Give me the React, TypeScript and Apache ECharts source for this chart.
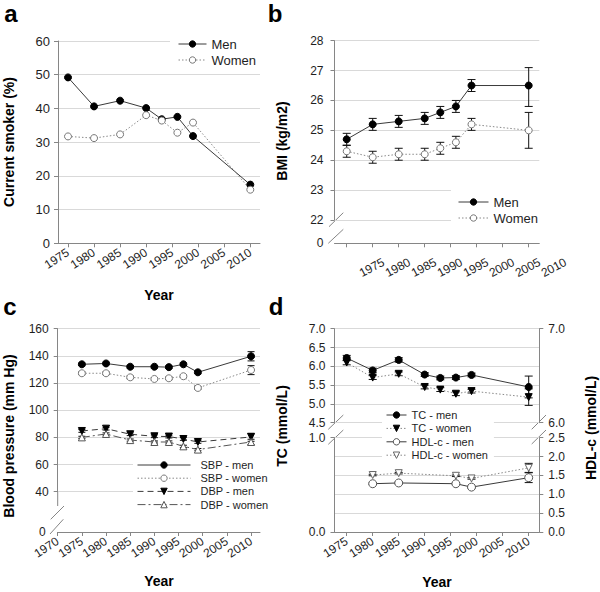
import React, { useEffect, useRef } from 'react';
import * as echarts from 'echarts';

const FONT = "'Liberation Sans', Arial, Helvetica, sans-serif";
const AXIS = '#868686';
const GRIDC = '#d9d9d9';
const TXT = '#1e1e1e';

// ---- data ----
const years = [1975, 1980, 1985, 1990, 1993, 1996, 1999, 2010];
const hdlYears = [1980, 1985, 1996, 1999, 2010];
const tickYears = [1975, 1980, 1985, 1990, 1995, 2000, 2005, 2010];
const tickYearsC = [1970, 1975, 1980, 1985, 1990, 1995, 2000, 2005, 2010];

// a: current smoker (%)
const smokeMen = [49.2, 40.6, 42.3, 40.1, 36.8, 37.5, 31.8, 17.4];
const smokeWomen = [31.7, 31.2, 32.3, 38.0, 36.4, 32.8, 35.8, 15.9];

// b: BMI
const bmiMen = [24.7, 25.2, 25.3, 25.4, 25.6, 25.8, 26.5, 26.5];
const bmiMenLow = [24.5, 25.0, 25.1, 25.2, 25.4, 25.6, 26.3, 25.8];
const bmiMenHigh = [24.9, 25.4, 25.5, 25.6, 25.8, 26.0, 26.7, 27.1];
const bmiWomen = [24.3, 24.1, 24.2, 24.2, 24.4, 24.6, 25.2, 25.0];
const bmiWomenLow = [24.1, 23.9, 24.0, 24.0, 24.2, 24.4, 25.0, 24.4];
const bmiWomenHigh = [24.5, 24.3, 24.4, 24.4, 24.6, 24.8, 25.4, 25.6];

// c: blood pressure
const sbpMen = [133.8, 134.4, 132.0, 132.0, 131.7, 133.8, 127.9, 139.7];
const sbpMenLow = [132.8, 133.4, 131.0, 131.0, 130.7, 132.8, 126.9, 136.3];
const sbpMenHigh = [134.8, 135.4, 133.0, 133.0, 132.7, 134.8, 128.9, 143.1];
const sbpWomen = [127.2, 127.2, 124.2, 123.0, 123.5, 125.0, 116.4, 129.6];
const sbpWomenLow = [126.2, 126.2, 123.2, 122.0, 122.5, 124.0, 115.4, 126.2];
const sbpWomenHigh = [128.2, 128.2, 125.2, 124.0, 124.5, 126.0, 117.4, 132.8];
const dbpMen = [84.7, 86.4, 82.3, 80.8, 80.6, 78.8, 76.6, 80.3];
const dbpMenLow = [83.7, 85.4, 81.3, 79.8, 79.6, 77.8, 75.6, 77.1];
const dbpMenHigh = [85.7, 87.4, 83.3, 81.8, 81.6, 79.8, 77.6, 83.0];
const dbpWomen = [80.0, 82.5, 78.0, 76.6, 76.6, 73.4, 71.0, 76.6];
const dbpWomenLow = [79.2, 81.7, 77.2, 75.8, 75.8, 72.6, 70.2, 74.6];
const dbpWomenHigh = [80.8, 83.3, 78.8, 77.4, 77.4, 74.2, 71.8, 78.6];

// d: cholesterol
const tcMen = [6.22, 5.89, 6.17, 5.78, 5.69, 5.70, 5.77, 5.45];
const tcMenLow = [6.15, 5.83, 6.11, 5.73, 5.64, 5.65, 5.72, 5.16];
const tcMenHigh = [6.29, 5.95, 6.23, 5.83, 5.74, 5.75, 5.82, 5.74];
const tcWomen = [6.10, 5.70, 5.80, 5.45, 5.38, 5.27, 5.34, 5.18];
const tcWomenLow = [6.04, 5.65, 5.75, 5.40, 5.33, 5.22, 5.29, 4.96];
const tcWomenHigh = [6.16, 5.75, 5.85, 5.50, 5.43, 5.32, 5.39, 5.40];
const hdlMen = [1.28, 1.30, 1.28, 1.19, 1.44];
const hdlMenLow = [1.26, 1.28, 1.26, 1.17, 1.31];
const hdlMenHigh = [1.30, 1.32, 1.30, 1.21, 1.57];
const hdlWomen = [1.51, 1.56, 1.49, 1.42, 1.70];
const hdlWomenLow = [1.49, 1.54, 1.47, 1.40, 1.58];
const hdlWomenHigh = [1.53, 1.58, 1.51, 1.44, 1.82];

const pairs = (xs: number[], ys: number[]) => xs.map((x, i) => [x, ys[i]]);
const errs = (xs: number[], lo: number[], hi: number[]) => xs.map((x, i) => [x, lo[i], hi[i]]);

const yearFmt = (v: number) => String(Math.round(v));
const fix1 = (v: number) => v.toFixed(1);

function xShown(gi: number, min: number, max: number, ticks: number[], labels: boolean, rotate = 33, fontSize = 12, margin = 8) {
  return {
    type: 'value', gridIndex: gi, min, max,
    axisLine: { show: true, lineStyle: { color: AXIS, width: 1 } },
    axisTick: { show: true, customValues: ticks, length: 4, lineStyle: { color: AXIS } },
    axisLabel: { show: labels, customValues: ticks, rotate, fontSize, margin, color: TXT, fontFamily: FONT, formatter: yearFmt },
    splitLine: { show: false },
  };
}
function xHidden(gi: number, min: number, max: number) {
  return { type: 'value', gridIndex: gi, min, max, show: false, splitLine: { show: false } };
}
function xLabelsOnly(gi: number, min: number, max: number, ticks: number[], rotate: number, fontSize: number, margin: number) {
  return {
    type: 'value', gridIndex: gi, min, max,
    axisLine: { show: false }, axisTick: { show: false }, splitLine: { show: false },
    axisLabel: { show: true, customValues: ticks, rotate, fontSize, margin, color: TXT, fontFamily: FONT, formatter: yearFmt },
  };
}
function yAx(gi: number, min: number, max: number, interval: number, opts: any = {}) {
  return {
    type: 'value', gridIndex: gi, min, max, interval,
    position: opts.position || 'left',
    axisLine: { show: opts.line !== false, lineStyle: { color: AXIS, width: 1 } },
    axisTick: { show: opts.tick !== false, length: 4, lineStyle: { color: AXIS } },
    axisLabel: { show: true, fontSize: opts.fontSize || 12, margin: opts.margin || 9, color: TXT, fontFamily: FONT, formatter: opts.formatter },
    splitLine: { show: !!opts.split, lineStyle: { color: GRIDC, width: 1 } },
  };
}

type Sty = { line: string; lineType: any; sym: string; rot?: number; fill: string; border: string; size?: number };
const MEN: Sty = { line: '#3a3a3a', lineType: 'solid', sym: 'circle', fill: '#000', border: '#000' };
const WOMEN: Sty = { line: '#8a8a8a', lineType: [1.5, 2], sym: 'circle', fill: '#fff', border: '#777' };

function lineS(name: string, data: any[], xi: number, yi: number, s: Sty) {
  return {
    type: 'line', name, data, xAxisIndex: xi, yAxisIndex: yi,
    symbol: s.sym, symbolSize: s.size || 7, symbolRotate: s.rot || 0, showSymbol: true,
    lineStyle: { color: s.line, width: 1, type: s.lineType },
    itemStyle: { color: s.fill, borderColor: s.border, borderWidth: 1 },
    emphasis: { disabled: true }, silent: true, z: 5, clip: false,
  };
}
function errS(id: string, data: any[], xi: number, yi: number, cap: number) {
  return {
    type: 'custom', name: id, data, xAxisIndex: xi, yAxisIndex: yi, z: 3, silent: true, clip: false,
    encode: { x: 0, y: [1, 2] },
    renderItem: (_p: any, api: any) => {
      const x = api.value(0);
      const lo = api.coord([x, api.value(1)]);
      const hi = api.coord([x, api.value(2)]);
      const style = { stroke: '#111', lineWidth: 1 };
      return {
        type: 'group', children: [
          { type: 'line', shape: { x1: lo[0], y1: lo[1], x2: hi[0], y2: hi[1] }, style },
          { type: 'line', shape: { x1: lo[0] - cap, y1: lo[1], x2: lo[0] + cap, y2: lo[1] }, style },
          { type: 'line', shape: { x1: hi[0] - cap, y1: hi[1], x2: hi[0] + cap, y2: hi[1] }, style },
        ],
      };
    },
  };
}

function legendC(data: string[], left: number, top: number, o: any) {
  return {
    data, orient: 'vertical', left, top, selectedMode: false,
    itemWidth: o.iw, itemHeight: o.ih || 8, itemGap: o.gap,
    backgroundColor: '#fff', padding: o.pad,
    itemStyle: { borderWidth: 1 },
    lineStyle: { width: 1 },
    textStyle: { fontSize: o.fs, color: TXT, fontFamily: FONT, lineHeight: o.lh, padding: o.tpad || 0 },
  };
}

function title(text: string, x: number, y: number, size: number, rot = 0) {
  return {
    type: 'text', x, y, rotation: rot, silent: true, z: 100,
    style: { text, fontSize: size, fontWeight: 'bold', fontFamily: FONT, fill: '#000', textAlign: 'center', textVerticalAlign: 'middle' },
  };
}
function seg(x1: number, y1: number, x2: number, y2: number) {
  return { type: 'line', silent: true, shape: { x1, y1, x2, y2 }, style: { stroke: AXIS, lineWidth: 1 } };
}

function buildOption() {
  const A: [number, number] = [1973.08, 2011.86];
  const B: [number, number] = [1972.65, 2012.04];
  const C: [number, number] = [1970, 2011.85];
  const BL: [number, number] = [1965.55, 2012.04];
  const grids = [
    { left: 58, top: 41, width: 202, height: 202.3 },
    { left: 334.5, top: 40.7, width: 204.8, height: 179.3 },
    { left: 334.5, top: 220, width: 204.8, height: 23.3 },
    { left: 334.5, top: 220, width: 241.7, height: 23.3 },
    { left: 57.7, top: 328.7, width: 202.3, height: 163 },
    { left: 57.7, top: 491.7, width: 202.3, height: 40.3 },
    { left: 334.5, top: 328.7, width: 204.8, height: 94 },
    { left: 334.5, top: 437.7, width: 204.8, height: 94.3 },
  ].map((g) => ({ ...g, outerBoundsMode: 'none', containLabel: false }));

  const xAxis = [
    xShown(0, A[0], A[1], tickYears, true),
    xHidden(1, B[0], B[1]),
    xShown(2, B[0], B[1], tickYears, false),
    xLabelsOnly(3, BL[0], BL[1], tickYears, 28, 12, 18),
    xHidden(4, C[0], C[1]),
    xShown(5, C[0], C[1], tickYearsC, true),
    xHidden(6, B[0], B[1]),
    xShown(7, B[0], B[1], tickYears, true),
  ];
  const yAxis = [
    yAx(0, 0, 60, 10, { split: true, fontSize: 13, margin: 8 }),
    yAx(1, 22, 28, 1, { split: true, fontSize: 12, margin: 11 }),
    yAx(2, 0, 1, 1, { line: false, tick: false, fontSize: 12, margin: 11, formatter: (v: number) => (v === 0 ? '0' : '') }),
    { type: 'value', gridIndex: 3, min: 0, max: 1, show: false },
    yAx(4, 40, 160, 20, { split: true, fontSize: 12, margin: 9 }),
    yAx(5, 0, 1, 1, { line: false, tick: false, fontSize: 12, margin: 12, formatter: (v: number) => (v === 0 ? '0' : '') }),
    yAx(6, 4.5, 7, 0.5, { split: true, fontSize: 12, margin: 9, formatter: fix1 }),
    yAx(6, 6, 7, 1, { position: 'right', fontSize: 12, margin: 9, formatter: fix1 }),
    yAx(7, 0, 1, 1, { fontSize: 12, margin: 9, formatter: fix1 }),
    yAx(7, 0, 2.5, 0.5, { position: 'right', split: true, fontSize: 12, margin: 9, formatter: fix1 }),
  ];

  const DOT: Sty = { line: '#8a8a8a', lineType: [1.5, 2], sym: 'circle', fill: '#fff', border: '#777' };
  const series: any[] = [
    // a
    lineS('Men', pairs(years, smokeMen), 0, 0, MEN),
    lineS('Women', pairs(years, smokeWomen), 0, 0, WOMEN),
    // b
    errS('err-b-men', errs(years, bmiMenLow, bmiMenHigh), 1, 1, 4),
    errS('err-b-women', errs(years, bmiWomenLow, bmiWomenHigh), 1, 1, 4),
    lineS('Men', pairs(years, bmiMen), 1, 1, MEN),
    lineS('Women', pairs(years, bmiWomen), 1, 1, WOMEN),
    // c
    errS('err-c-1', errs(years, sbpMenLow, sbpMenHigh), 4, 4, 3.5),
    errS('err-c-2', errs(years, sbpWomenLow, sbpWomenHigh), 4, 4, 3.5),
    errS('err-c-3', errs(years, dbpMenLow, dbpMenHigh), 4, 4, 3.5),
    errS('err-c-4', errs(years, dbpWomenLow, dbpWomenHigh), 4, 4, 3.5),
    lineS('SBP - men', pairs(years, sbpMen), 4, 4, MEN),
    lineS('SBP - women', pairs(years, sbpWomen), 4, 4, DOT),
    lineS('DBP - men', pairs(years, dbpMen), 4, 4, { line: '#3a3a3a', lineType: [6, 4], sym: 'triangle', rot: 180, fill: '#000', border: '#000' }),
    lineS('DBP - women', pairs(years, dbpWomen), 4, 4, { line: '#555', lineType: [8, 3, 2, 3], sym: 'triangle', fill: '#fff', border: '#555' }),
    // d
    errS('err-d-1', errs(years, tcMenLow, tcMenHigh), 6, 6, 4),
    errS('err-d-2', errs(years, tcWomenLow, tcWomenHigh), 6, 6, 4),
    errS('err-d-3', errs(hdlYears, hdlMenLow, hdlMenHigh), 7, 9, 4),
    errS('err-d-4', errs(hdlYears, hdlWomenLow, hdlWomenHigh), 7, 9, 4),
    lineS('TC - men', pairs(years, tcMen), 6, 6, MEN),
    lineS('TC - women', pairs(years, tcWomen), 6, 6, { line: '#8a8a8a', lineType: [1.5, 2], sym: 'triangle', rot: 180, fill: '#000', border: '#000' }),
    lineS('HDL-c - men', pairs(hdlYears, hdlMen), 7, 9, { line: '#3a3a3a', lineType: 'solid', sym: 'circle', fill: '#fff', border: '#555', size: 8 }),
    lineS('HDL-c - women', pairs(hdlYears, hdlWomen), 7, 9, { line: '#8a8a8a', lineType: [1.5, 2], sym: 'triangle', rot: 180, fill: '#fff', border: '#666' }),
  ];

  const legend = [
    legendC(['Men', 'Women'], 170, 34, { iw: 28, gap: 2, pad: [3, 6, 3, 8], fs: 13, lh: 14 }),
    legendC(['Men', 'Women'], 451, 186, { iw: 30, gap: 2, pad: [9, 6, 5, 7], fs: 13, lh: 14 }),
    legendC(['SBP - men', 'SBP - women', 'DBP - men', 'DBP - women'], 133, 456, { iw: 53, gap: 1.2, pad: [3, 4, 3, 4], fs: 11, lh: 12, tpad: [0, 0, 0, 5] }),
    legendC(['TC - men', 'TC - women', 'HDL-c - men', 'HDL-c - women'], 382, 406, { iw: 20, gap: 1.4, pad: [3, 6, 3, 4], fs: 11, lh: 12 }),
  ];

  const graphic = [
    title('a', 11, 13.5, 24), title('b', 275, 13.5, 24), title('c', 10, 306.5, 24), title('d', 276, 306.5, 24),
    title('Current smoker (%)', 9, 142, 14, Math.PI / 2),
    title('BMI (kg/m2)', 282, 141, 14, Math.PI / 2),
    title('Blood pressure (mm Hg)', 9, 436, 14, Math.PI / 2),
    title('TC (mmol/L)', 282, 426, 14, Math.PI / 2),
    title('HDL-c (mmol/L)', 591, 428, 14, Math.PI / 2),
    title('Year', 159, 295, 14), title('Year', 159, 581, 14), title('Year', 437, 582, 14),
    // axis break marks
    seg(329, 226.7, 343.3, 212.7), seg(328.3, 243.3, 343.3, 229.3),
    seg(57.7, 491.7, 57.7, 506), seg(50.7, 519.3, 64, 506), seg(50, 534, 63.3, 519.3),
    seg(328.3, 429.3, 343.3, 415), seg(328.3, 444.3, 343.3, 430),
    seg(531.7, 429.3, 546, 415), seg(531.7, 444, 546, 430),
  ];

  return {
    animation: false,
    backgroundColor: '#fff',
    textStyle: { fontFamily: FONT },
    grid: grids, xAxis, yAxis, series, legend, graphic,
  };
}

export default function App() {
  const ref = useRef<HTMLDivElement>(null);
  useEffect(() => {
    if (!ref.current) return;
    const chart = echarts.init(ref.current, null, { renderer: 'svg' });
    chart.setOption(buildOption() as any);
    return () => chart.dispose();
  }, []);
  return <div ref={ref} style={{ position: 'fixed', left: 0, top: 0, width: 600, height: 592, background: '#fff' }} />;
}
